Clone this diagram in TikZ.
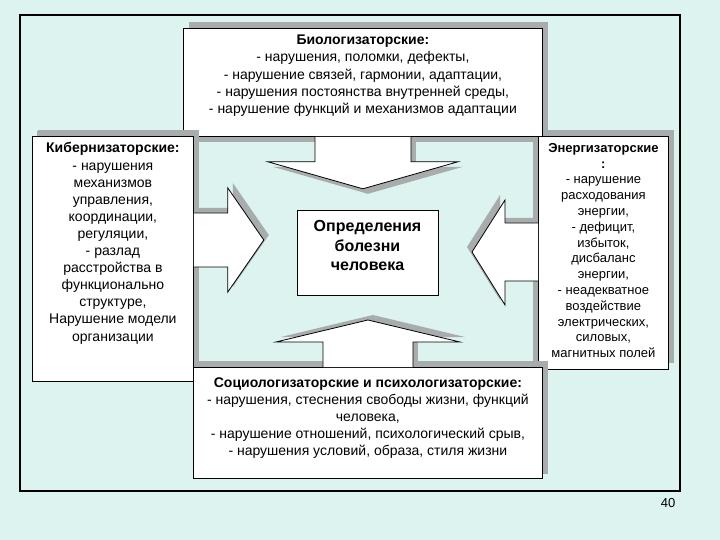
\documentclass[tikz,border=0pt]{standalone}
\usepackage{fontspec}
\setmainfont{Liberation Sans}
\usetikzlibrary{positioning,calc,shadows}
\definecolor{bgCyan}{RGB}{220,243,240}
\definecolor{shGray}{RGB}{168,172,172}
\pgfdeclarelayer{back}
\pgfdeclarelayer{shade}
\pgfsetlayers{back,shade,main}
\tikzset{
    castshadow/.style 2 args={drop shadow={shadow xshift=#1, shadow yshift=#2, fill=shGray, opacity=1}},
    card/.style={draw=black, line width=0.8pt, fill=white, inner sep=0pt, anchor=north west, castshadow={6pt}{6pt}},
    txt/.style={align=center, inner sep=0pt, font=\fontsize{14pt}{17.1pt}\selectfont},
    smalltxt/.style={align=center, inner sep=0pt, font=\fontsize{13pt}{15.8pt}\selectfont},
    blockarrow/.style={draw=black, line width=0.8pt, fill=white, line join=miter},
    frame/.style={draw=black, line width=2.2pt}
}
\begin{document}
\begin{tikzpicture}[x=1pt,y=-1pt]
  % outer boxes
  \node[card, minimum width=359pt, minimum height=108pt] (bio) at (183,28) {};
  \node[card, minimum width=161pt, minimum height=245pt] (cyb) at (32,136) {};
  \node[card, minimum width=130pt, minimum height=233pt] (en) at (538,136) {};
  \node[card, minimum width=349pt, minimum height=111pt] (soc) at (193,367) {};
  \node[draw=black, line width=0.8pt, fill=white, minimum width=141pt, minimum height=85pt] (core) at (367.5,252.5) {};

  % texts
  \node[txt, below=7pt of bio.north] (bioTxt) {\textbf{Биологизаторские:}\\
    - нарушения, поломки, дефекты,\\
    - нарушение связей, гармонии, адаптации,\\
    - нарушения постоянства внутренней среды,\\
    - нарушение функций и механизмов адаптации};
  \node[txt, below=6.5pt of cyb.north] (cybTxt) {\textbf{Кибернизаторские:}\\
    - нарушения\\ механизмов\\ управления,\\ координации,\\ регуляции,\\
    - разлад\\ расстройства в\\ функционально\\ структуре,\\
    Нарушение модели\\ организации};
  \node[smalltxt, below=7pt of en.north] (enTxt) {\textbf{Энергизаторские}\\ \textbf{:}\\
    - нарушение\\ расходования\\ энергии,\\ - дефицит,\\ избыток,\\ дисбаланс\\ энергии,\\
    - неадекватное\\ воздействие\\ электрических,\\ силовых,\\ магнитных полей};
  \node[txt, below=10.5pt of soc.north] (socTxt) {\textbf{Социологизаторские и психологизаторские:}\\
    - нарушения, стеснения свободы жизни, функций\\ человека,\\
    - нарушение отношений, психологический срыв,\\
    - нарушения условий, образа, стиля жизни};
  \node[align=center, font=\fontsize{16pt}{19.5pt}\selectfont\bfseries] (coreTxt) at ($(core.center)+(0,-7)$)
    {Определения\\ болезни\\ человека};

  % arrows into the centre
  \coordinate (cybOut) at ($(cyb.north east)+(0,104)$);
  \coordinate (enOut) at ($(en.north west)+(0,116)$);
  \draw[blockarrow, castshadow={5pt}{-5pt}] ($(bio.south)+(-48,0)$) -- ++(0,25) -- ++(-47,0)
    -- ($(bio.south)+(0,52)$) -- ($(bio.south)+(95,25)$) -- ++(-47,0) -- ++(0,-25);
  \draw[blockarrow, castshadow={5pt}{5pt}] ($(cybOut)+(0,-27)$) -- ++(34,0) -- ++(0,-25)
    -- ($(cybOut)+(70,0)$) -- ($(cybOut)+(34,52)$) -- ++(0,-25) -- ++(-34,0);
  \draw[blockarrow, castshadow={-5pt}{5pt}] ($(enOut)+(0,-29)$) -- ++(-33,0) -- ++(0,-23)
    -- ($(enOut)+(-66,0)$) -- ($(enOut)+(-33,53)$) -- ++(0,-24) -- ++(33,0);
  \draw[blockarrow, castshadow={5pt}{5pt}] ($(soc.north)+(-45,0)$) -- ++(0,-25) -- ++(-47,0)
    -- ($(soc.north)+(0,-47)$) -- ($(soc.north)+(92,-25)$) -- ++(-47,0) -- ++(0,25);

  \node[font=\fontsize{13pt}{15pt}\selectfont] (pageNo) at (668,503) {40};

  % shadows of the callout bodies
  \begin{pgfonlayer}{shade}
    \fill[shGray] ($(bio.north west)+(5,5)$) rectangle ($(bio.south east)+(5,5)$);
    \fill[shGray] ($(cyb.north west)+(5,-5)$) rectangle ($(cyb.south east)+(5,-5)$);
    \fill[shGray] ($(en.north west)+(-5,-5)$) rectangle ($(en.south east)+(-5,-5)$);
    \fill[shGray] ($(soc.north west)+(5,-5)$) rectangle ($(soc.south east)+(5,-5)$);
  \end{pgfonlayer}
  \begin{pgfonlayer}{back}
    \fill[bgCyan] (0,0) rectangle (720,540);
    \draw[frame] (20,15) rectangle (680,491);
  \end{pgfonlayer}
\end{tikzpicture}
\end{document}
